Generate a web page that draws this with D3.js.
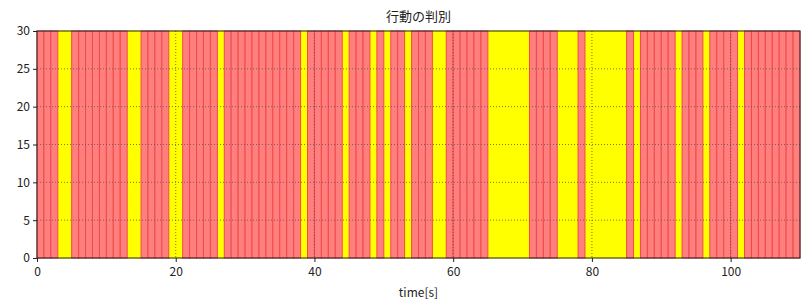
<!DOCTYPE html>
<html>
<head>
<meta charset="utf-8">
<title>行動の判別</title>
<script src="https://cdn.jsdelivr.net/npm/d3@7"></script>
<style>
  body { margin: 0; background: #fff; }
  text { font-family: "Noto Sans CJK JP", "DejaVu Sans", sans-serif; }
</style>
</head>
<body>
<script>
// one bar per second, "R" = red, "Y" = yellow
var states = [
  "R","R","R","Y","Y","R","R","R","R","R",
  "R","R","R","Y","Y","R","R","R","R","Y",
  "Y","R","R","R","R","R","Y","R","R","R",
  "R","R","R","R","R","R","R","R","Y","R",
  "R","R","R","R","Y","R","R","R","Y","R",
  "Y","R","R","Y","R","R","R","Y","Y","R",
  "R","R","R","R","R","Y","Y","Y","Y","Y",
  "Y","R","R","R","R","Y","Y","Y","R","Y",
  "Y","Y","Y","Y","Y","R","Y","R","R","R",
  "R","R","Y","R","R","R","Y","R","R","R",
  "R","Y","R","R","R","R","R","R","R","R"
];
var barValue = 30;
var xTicks = [0, 20, 40, 60, 80, 100];
var yTicks = [0, 5, 10, 15, 20, 25, 30];
var title = "行動の判別";
var xLabel = "time[s]";

var width = 810, height = 308;
var margin = {top: 31, right: 10, bottom: 50, left: 37};
var w = width - margin.left - margin.right,
    h = height - margin.top - margin.bottom;

var x = d3.scaleLinear().domain([0, 110]).range([0, w]);
var y = d3.scaleLinear().domain([0, 30]).range([h, 0]);

var svg = d3.select("body").append("svg")
  .attr("width", width)
  .attr("height", height);

var g = svg.append("g")
  .attr("transform", "translate(" + margin.left + "," + margin.top + ")");

// yellow bars first, red on top so their edges stay visible
var order = states.map(function(d, i) { return {s: d, t: i}; })
  .sort(function(a, b) { return (a.s == "R") - (b.s == "R"); });

g.selectAll("rect.bar")
  .data(order)
  .enter()
  .append("rect")
  .attr("class", "bar")
  .attr("x", function(d) { return x(d.t); })
  .attr("y", y(barValue))
  .attr("width", x(1) - x(0))
  .attr("height", h - y(barValue))
  .attr("fill", function(d) { return d.s == "R" ? "#ff7e7e" : "#ffff00"; })
  .attr("stroke", function(d) { return d.s == "R" ? "#f04a4a" : "#ffff00"; })
  .attr("stroke-width", 1);

// grid
g.selectAll("line.vgrid")
  .data(xTicks.slice(1))
  .enter().append("line")
  .attr("x1", function(d) { return x(d); })
  .attr("x2", function(d) { return x(d); })
  .attr("y1", 0).attr("y2", h)
  .attr("stroke", "#555").attr("stroke-width", 0.8)
  .attr("stroke-dasharray", "1,2");

g.selectAll("line.hgrid")
  .data(yTicks.slice(1, -1))
  .enter().append("line")
  .attr("x1", 0).attr("x2", w)
  .attr("y1", function(d) { return y(d); })
  .attr("y2", function(d) { return y(d); })
  .attr("stroke", "#555").attr("stroke-width", 0.8)
  .attr("stroke-dasharray", "1,2");

// frame
g.append("rect")
  .attr("width", w).attr("height", h)
  .attr("fill", "none").attr("stroke", "#222").attr("stroke-width", 1);

// axes
var xAxis = g.append("g")
  .attr("transform", "translate(0," + h + ")")
  .call(d3.axisBottom(x).tickValues(xTicks).tickSize(4).tickSizeOuter(0));
var yAxis = g.append("g")
  .call(d3.axisLeft(y).tickValues(yTicks).tickSize(4).tickSizeOuter(0));

[xAxis, yAxis].forEach(function(a) {
  a.select(".domain").remove();
  a.selectAll("text").attr("font-size", 12).attr("fill", "#222")
    .style("font-family", "'Noto Sans CJK JP', sans-serif");
  a.selectAll("line").attr("stroke", "#222");
});
xAxis.selectAll("text").attr("dy", "0.9em");

svg.append("text")
  .attr("x", margin.left + w / 2)
  .attr("y", 21)
  .attr("text-anchor", "middle")
  .attr("font-size", 13)
  .attr("fill", "#222")
  .text(title);

svg.append("text")
  .attr("x", margin.left + w / 2)
  .attr("y", 297)
  .attr("text-anchor", "middle")
  .attr("font-size", 12)
  .attr("fill", "#222")
  .text(xLabel);
</script>
</body>
</html>
